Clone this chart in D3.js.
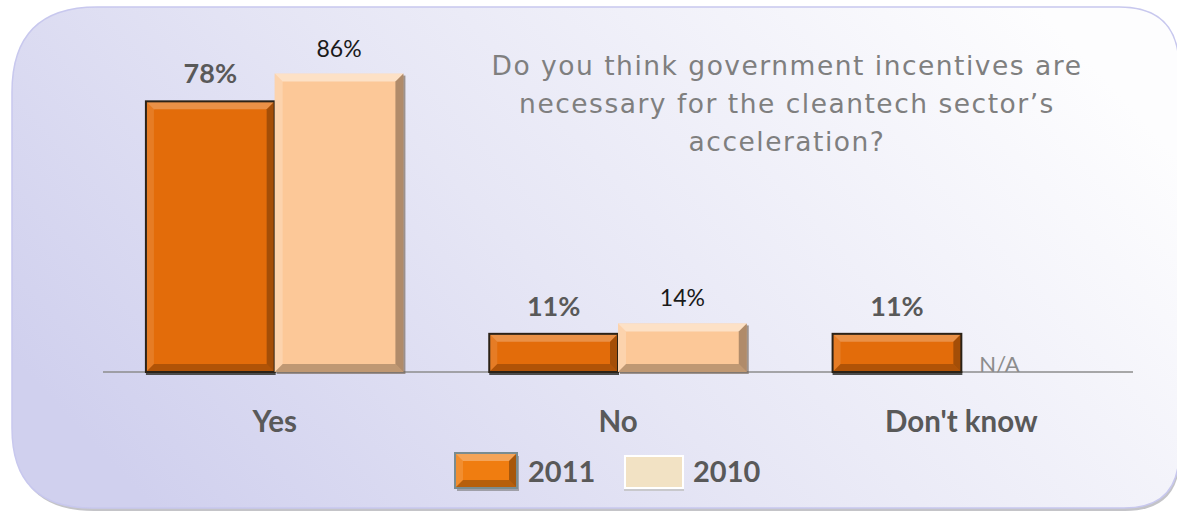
<!DOCTYPE html>
<html>
<head>
<meta charset="utf-8">
<script src="https://cdn.jsdelivr.net/npm/d3@7"></script>
<style>
  html, body { margin: 0; padding: 0; background: #ffffff; }
  svg { display: block; }
</style>
</head>
<body>
<div id="chart"></div>
<script>
//
// chart data
//
const categories = ['Yes', 'No', "Don't know"];
const series = ['2011', '2010'];
const values2011 = [78, 11, 11];
const values2010 = [86, 14, null];
const labels2011 = ['78%', '11%', '11%'];
const labels2010 = ['86%', '14%', 'N/A'];
const titleLines = [
    'Do you think government incentives are',
    'necessary for the cleantech sector\u2019s',
    'acceleration?'
];

const width = 1177;
const height = 514;

const svg = d3.select('#chart').append('svg')
    .attr('width', width)
    .attr('height', height);

// background panel with uneven rounded corners
const defs = svg.append('defs');
const bg = defs.append('linearGradient')
    .attr('id', 'bg-grad')
    .attr('x1', '0').attr('y1', '0.7')
    .attr('x2', '1').attr('y2', '0.3');
bg.append('stop').attr('offset', '0%').attr('stop-color', '#d0d0ee');
bg.append('stop').attr('offset', '45%').attr('stop-color', '#e6e6f5');
bg.append('stop').attr('offset', '100%').attr('stop-color', '#fdfdfe');

function panelPath(x, y, w, h, tl, tr, br, bl) {
    const p = d3.path();
    p.moveTo(x + tl, y);
    p.lineTo(x + w - tr, y);
    p.quadraticCurveTo(x + w, y, x + w, y + tr);
    p.lineTo(x + w, y + h - br);
    p.quadraticCurveTo(x + w, y + h, x + w - br, y + h);
    p.lineTo(x + bl, y + h);
    p.quadraticCurveTo(x, y + h, x, y + h - bl);
    p.lineTo(x, y + tl);
    p.quadraticCurveTo(x, y, x + tl, y);
    p.closePath();
    return p.toString();
}

// shadow
svg.append('path')
    .attr('d', panelPath(14, 10, 1166, 501, 85, 60, 55, 80))
    .attr('fill', '#c4c4c8');
svg.append('path')
    .attr('d', panelPath(12, 7, 1167, 501, 85, 60, 55, 80))
    .attr('fill', 'url(#bg-grad)')
    .attr('stroke', '#c8c8ee')
    .attr('stroke-width', 1.5);

// scales
const margin = {left: 103, right: 44, top: 25, base: 372};
const x0 = d3.scaleBand()
    .domain(categories)
    .range([margin.left, width - margin.right])
    .paddingInner(0.25)
    .paddingOuter(0.125);
const x1 = d3.scaleBand()
    .domain(series)
    .range([0, x0.bandwidth()]);
const y = d3.scaleLinear()
    .domain([0, 100])
    .range([margin.base, margin.top]);

const rows = categories.map((c, i) => ({
    cat: c,
    bars: [
        {s: '2011', v: values2011[i], label: labels2011[i]},
        {s: '2010', v: values2010[i], label: labels2010[i]}
    ]
}));

const style = {
    '2011': {fill: '#e36c0a', stroke: '#2b2217', hi: 0.25, lo: 0.28},
    '2010': {fill: '#fcc898', stroke: 'none', hi: 0.45, lo: 0.3}
};

// bevelled rectangle
function bevel(g, x, yy, w, h, fill, stroke, hi, lo) {
    const b = Math.min(8, h / 3.5);
    g.append('rect')
        .attr('x', x).attr('y', yy)
        .attr('width', w).attr('height', h)
        .attr('fill', fill);
    const faces = [
        {pts: [[x, yy], [x + w, yy], [x + w - b, yy + b], [x + b, yy + b]], c: '#ffffff', o: hi},
        {pts: [[x, yy], [x + b, yy + b], [x + b, yy + h - b], [x, yy + h]], c: '#ffffff', o: hi * 0.45},
        {pts: [[x + w, yy], [x + w, yy + h], [x + w - b, yy + h - b], [x + w - b, yy + b]], c: '#000000', o: lo},
        {pts: [[x, yy + h], [x + b, yy + h - b], [x + w - b, yy + h - b], [x + w, yy + h]], c: '#000000', o: lo * 0.8}
    ];
    g.selectAll(null)
        .data(faces)
        .join('polygon')
        .attr('points', d => d.pts.map(p => p.join(',')).join(' '))
        .attr('fill', d => d.c)
        .attr('fill-opacity', d => d.o);
    if (stroke !== 'none') {
        g.append('rect')
            .attr('x', x).attr('y', yy)
            .attr('width', w).attr('height', h)
            .attr('fill', 'none')
            .attr('stroke', stroke)
            .attr('stroke-width', 2);
    }
}

const plot = svg.append('g');

// baseline
plot.append('line')
    .attr('x1', margin.left).attr('x2', width - margin.right)
    .attr('y1', y(0)).attr('y2', y(0))
    .attr('stroke', '#8c8c8c')
    .attr('stroke-width', 1.5);

rows.forEach(r => {
    const gx = x0(r.cat);
    r.bars.forEach(d => {
        const bx = gx + x1(d.s);
        const bw = x1.bandwidth();
        if (d.v == null) {
            plot.append('text')
                .attr('x', bx + 18)
                .attr('y', y(0))
                .attr('font-family', 'Lato, sans-serif')
                .attr('font-size', 22)
                .attr('fill', '#8c8c8c')
                .text(d.label);
            return;
        }
        const st = style[d.s];
        const g = plot.append('g');
        // drop shadow at base
        if (d.s === '2011') {
            g.append('rect')
                .attr('x', bx).attr('y', y(0) - 1)
                .attr('width', bw + 1).attr('height', 4)
                .attr('fill', '#4a4a4a');
        } else {
            g.append('rect')
                .attr('x', bx + 2).attr('y', y(d.v) + 2)
                .attr('width', bw).attr('height', y(0) - y(d.v))
                .attr('fill', '#6b5a4a').attr('fill-opacity', 0.6);
        }
        bevel(g, bx, y(d.v), bw, y(0) - y(d.v), st.fill, st.stroke, st.hi, st.lo);

        plot.append('text')
            .attr('x', bx + bw / 2)
            .attr('y', y(d.v) - (d.s === '2011' ? 18 : 17))
            .attr('text-anchor', 'middle')
            .attr('font-family', 'Lato, sans-serif')
            .attr('font-size', d.s === '2011' ? 27 : 23)
            .attr('font-weight', d.s === '2011' ? 'bold' : 'normal')
            .attr('fill', d.s === '2011' ? '#595959' : '#1a1a1a')
            .text(d.label);
    });
});

// category labels
plot.selectAll('.cat')
    .data(categories)
    .join('text')
    .attr('class', 'cat')
    .attr('x', d => x0(d) + x0.bandwidth() / 2)
    .attr('y', 432)
    .attr('text-anchor', 'middle')
    .attr('font-family', 'Lato, sans-serif')
    .attr('font-size', 29.5)
    .attr('font-weight', 'bold')
    .attr('fill', '#595959')
    .text(d => d);

// title
svg.append('text')
    .attr('x', 787)
    .attr('y', 75)
    .attr('text-anchor', 'middle')
    .attr('font-family', 'DejaVu Sans, sans-serif')
    .attr('font-size', 26.5)
    .attr('letter-spacing', 1.5)
    .attr('fill', '#7f7f7f')
    .selectAll('tspan')
    .data(titleLines)
    .join('tspan')
    .attr('x', 787)
    .attr('dy', (d, i) => i === 0 ? 0 : 38)
    .text(d => d);

// legend
const legend = svg.append('g');
const legendItems = [
    {s: series[0], x: 455, y: 453, w: 62, h: 35, text: 528},
    {s: series[1], x: 625, y: 456, w: 58, h: 32, text: 693}
];
legendItems.forEach(d => {
    const g = legend.append('g');
    if (d.s === '2011') {
        g.append('rect')
            .attr('x', d.x + 2).attr('y', d.y + 3)
            .attr('width', d.w).attr('height', d.h)
            .attr('fill', '#777777').attr('fill-opacity', 0.6);
        bevel(g, d.x, d.y, d.w, d.h, '#f07d10', '#7a8c90', 0.3, 0.3);
    } else {
        g.append('rect')
            .attr('x', d.x - 1).attr('y', d.y + 3)
            .attr('width', d.w + 2).attr('height', d.h)
            .attr('fill', '#c8c8cc');
        g.append('rect')
            .attr('x', d.x).attr('y', d.y)
            .attr('width', d.w).attr('height', d.h)
            .attr('fill', '#f2e2c4')
            .attr('stroke', '#ffffff')
            .attr('stroke-width', 2);
    }
    g.append('text')
        .attr('x', d.text)
        .attr('y', 482)
        .attr('font-family', 'Lato, sans-serif')
        .attr('font-size', 29)
        .attr('font-weight', 'bold')
        .attr('fill', '#595959')
        .text(d.s);
});
</script>
</body>
</html>
